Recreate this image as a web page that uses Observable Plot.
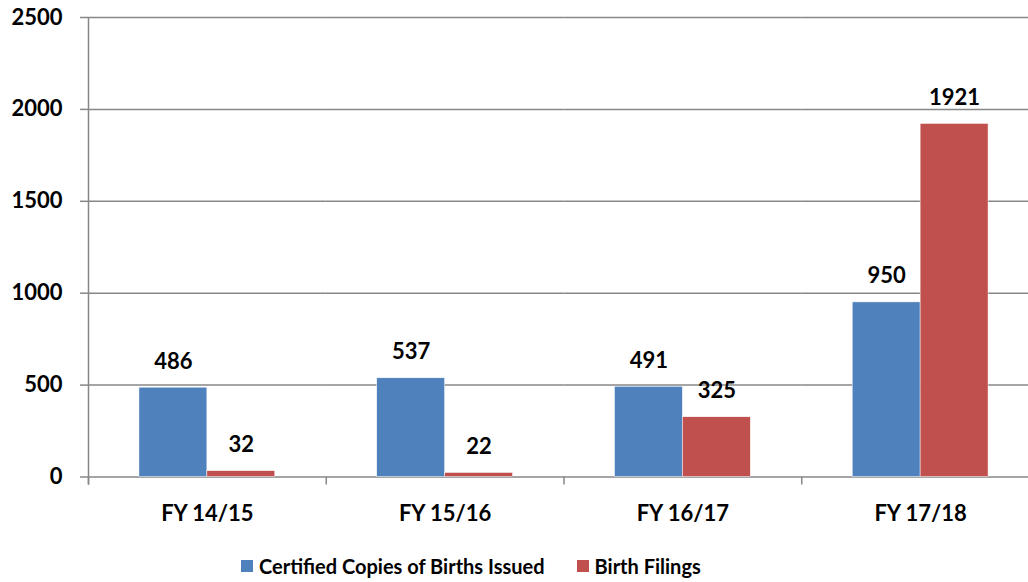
<!DOCTYPE html>
<html>
<head>
<meta charset="utf-8">
<script src="https://cdn.jsdelivr.net/npm/d3@7"></script>
<script src="https://cdn.jsdelivr.net/npm/@observablehq/plot@0.6"></script>
<style>
  html, body { margin: 0; padding: 0; background: #fff; overflow: hidden; }
  #wrap { position: relative; width: 1028px; height: 582px; font-family: Lato, "Open Sans", sans-serif; font-weight: 700; }
  #legend { position: absolute; left: 241px; top: 554px; display: flex; align-items: center; font-size: 20px; color: #000; white-space: nowrap; }
  .item { display: flex; align-items: center; margin-right: 32px; }
  .sw { width: 12px; height: 12px; margin-right: 6px; }
</style>
</head>
<body>
<div id="wrap"><div id="chart"></div><div id="legend"></div></div>
<script>
const categories = ["FY 14/15", "FY 15/16", "FY 16/17", "FY 17/18"];
const series = ["Certified Copies of Births Issued", "Birth Filings"];
const certified = [486, 537, 491, 950];
const filings = [32, 22, 325, 1921];
const yTicks = [0, 500, 1000, 1500, 2000, 2500];
const colors = ["#4F81BD", "#C0504D"];

const data = [];
categories.forEach((c, i) => {
  data.push({cat: c, series: series[0], value: certified[i]});
  data.push({cat: c, series: series[1], value: filings[i]});
});

const W = 1028, H = 540, mL = 88, mR = -11, mT = 17, mB = 63.5;
const po = 0.75;
const groupW = (W - mR - mL) / categories.length;
const step = groupW / (series.length + 2 * po);
const edgeDx = -(po * step + step / 2);
const gray = "#878787";
const font = "Lato, 'Open Sans', sans-serif";

const chart = Plot.plot({
  width: W, height: H,
  marginLeft: mL, marginRight: mR, marginTop: mT, marginBottom: mB,
  style: {fontFamily: font, fontWeight: 700, fontSize: "22px", color: "#000", background: "#fff", overflow: "visible"},
  fx: {domain: categories, padding: 0, round: false, label: null},
  x: {domain: series, paddingInner: 0, paddingOuter: po, round: false, axis: null},
  y: {domain: [0, 2500], axis: null},
  color: {domain: series, range: colors},
  marks: [
    Plot.ruleY(yTicks, {stroke: gray, strokeWidth: 1.5}),
    Plot.barY(data, {fx: "cat", x: "series", y: "value", fill: "series", stroke: "white", strokeWidth: 0.5}),
    Plot.text(data, {fx: "cat", x: "series", y: "value", text: d => String(d.value), dy: -26, lineAnchor: "middle", fill: "#000", fontSize: 22, fontWeight: 700}),
    Plot.ruleX([series[0]], {dx: edgeDx, y1: 2500, y2: -44, stroke: gray, strokeWidth: 1.5, facetAnchor: "left"}),
    Plot.ruleX([series[0]], {dx: edgeDx, y1: 0, y2: -44, stroke: gray, strokeWidth: 1.5}),
    Plot.axisY(yTicks, {tickSize: 8, tickPadding: 18, stroke: gray, strokeWidth: 1.5, fontSize: 22, fontWeight: 700, label: null, tickFormat: d => String(d)}),
    Plot.axisFx({anchor: "bottom", tickSize: 0, tickPadding: 28, fontSize: 22, fontWeight: 700, label: null})
  ]
});
document.getElementById("chart").appendChild(chart);

const legend = document.getElementById("legend");
series.forEach((s, i) => {
  const item = document.createElement("div");
  item.className = "item";
  const sw = document.createElement("div");
  sw.className = "sw";
  sw.style.background = colors[i];
  const t = document.createElement("span");
  t.textContent = s;
  item.appendChild(sw); item.appendChild(t);
  legend.appendChild(item);
});
</script>
</body>
</html>
